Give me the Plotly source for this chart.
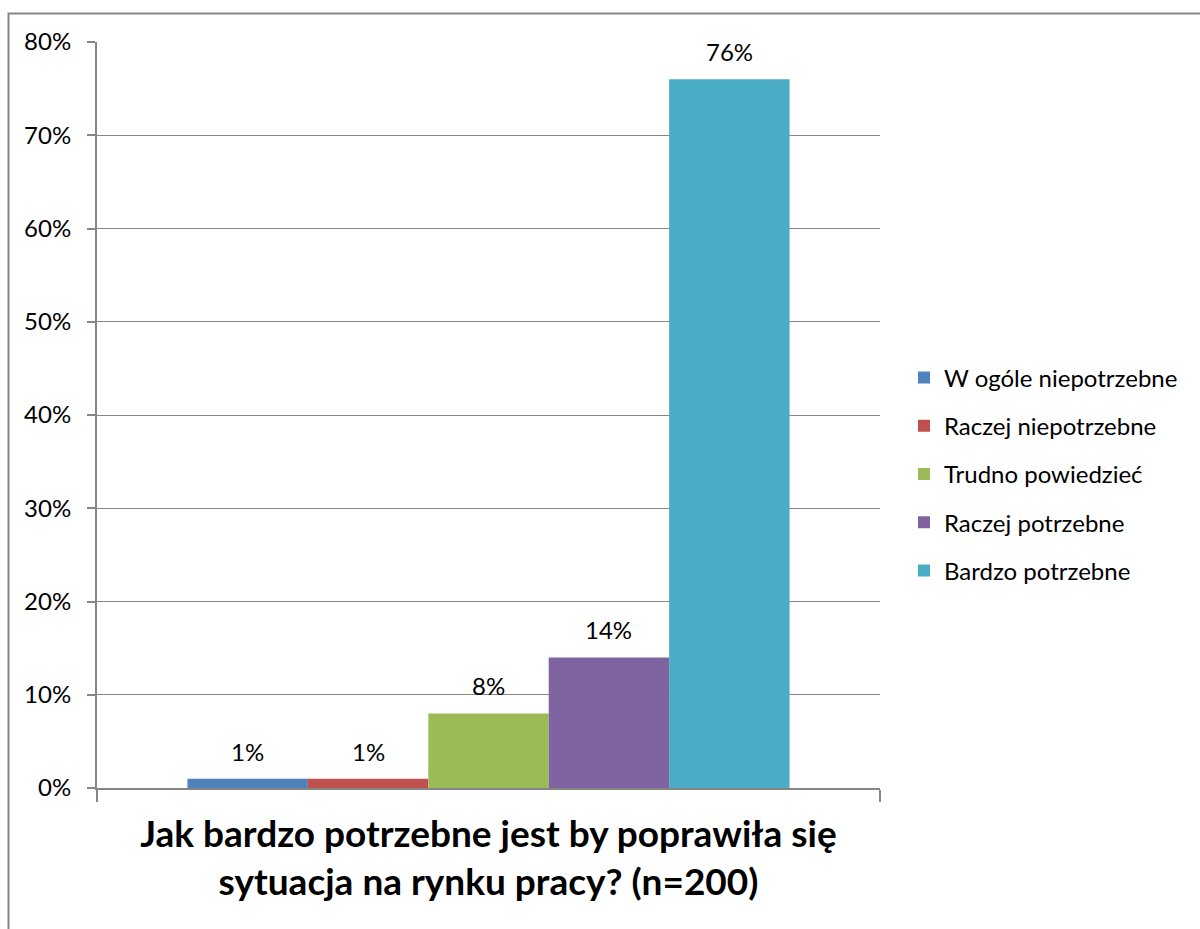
import plotly.graph_objects as go

# Survey answers and their shares (%)
categories = ["W ogóle niepotrzebne", "Raczej niepotrzebne", "Trudno powiedzieć",
              "Raczej potrzebne", "Bardzo potrzebne"]
values = [1, 1, 8, 14, 76]
colors = ["#4F81BD", "#C0504D", "#9BBB59", "#8064A2", "#4BACC6"]
y_ticks = [0, 10, 20, 30, 40, 50, 60, 70, 80]
title_text = "Jak bardzo potrzebne jest by poprawiła się<br>sytuacja na rynku pracy? (n=200)"

FONT = "Lato, Carlito, Calibri, sans-serif"
GRID = "#868686"
BARGAP = 0.231

W, H = 1200, 929
ML, MR, MT, MB = 97, 320, 42, 141
plot_w = W - ML - MR
plot_h = H - MT - MB

fig = go.Figure()
for i, (name, v, c) in enumerate(zip(categories, values, colors)):
    fig.add_trace(go.Bar(
        x=[0], y=[v], name=name, marker=dict(color=c, line=dict(width=0)),
        legendgroup=name, hoverinfo="skip",
    ))

# value labels above each bar (bar centres follow the grouped layout)
n = len(values)
bw = (1 - BARGAP) / n
for i, v in enumerate(values):
    xc = -0.5 + BARGAP / 2 + bw * (i + 0.5)
    fig.add_annotation(
        x=xc, y=v, xref="x", yref="y", text=f"{v}%", showarrow=False,
        yanchor="bottom", yshift=11,
        font=dict(family=FONT, size=24, color="#000000"),
    )

# outer chart frame
fig.add_shape(
    type="rect", xref="paper", yref="paper",
    x0=(8.5 - ML) / plot_w, x1=(W + 20 - ML) / plot_w,
    y0=-(H + 20 - MT - plot_h) / plot_h, y1=(H - 13.5 - MB) / plot_h,
    line=dict(color=GRID, width=2), fillcolor="rgba(0,0,0,0)", layer="below",
)

fig.update_layout(
    width=W, height=H,
    margin=dict(l=ML, r=MR, t=MT, b=MB, pad=0),
    paper_bgcolor="white", plot_bgcolor="white",
    barmode="group", bargap=BARGAP, bargroupgap=0,
    showlegend=True,
    legend=dict(
        x=(904 - ML) / plot_w, xanchor="left",
        y=(788 - 474) / plot_h, yanchor="middle",
        font=dict(family=FONT, size=24, color="#000000"),
        tracegroupgap=14, itemclick=False, itemdoubleclick=False,
        bgcolor="rgba(0,0,0,0)",
    ),
    xaxis=dict(
        range=[-0.5, 0.5], tickvals=[-0.5, 0.5], showticklabels=False,
        ticks="outside", ticklen=12, tickcolor=GRID, tickwidth=2,
        showgrid=False, zeroline=False,
        showline=True, linecolor=GRID, linewidth=2,
        title=dict(text=title_text, standoff=20,
                   font=dict(family=FONT, size=37, color="#000000", weight="bold")),
    ),
    yaxis=dict(
        range=[0, 80], tickvals=y_ticks, ticktext=[f"{t}%" for t in y_ticks],
        ticks="outside", ticklen=8, tickcolor=GRID, tickwidth=2,
        ticklabelstandoff=11,
        showgrid=True, gridcolor=GRID, gridwidth=1,
        zeroline=False, showline=True, linecolor=GRID, linewidth=2,
        tickfont=dict(family=FONT, size=24, color="#000000"),
    ),
)

fig.write_html("out.html")
